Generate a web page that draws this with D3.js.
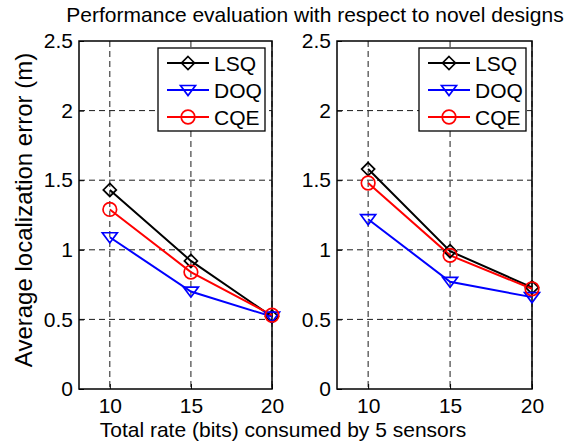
<!DOCTYPE html>
<html>
<head>
<meta charset="utf-8">
<script src="https://cdn.jsdelivr.net/npm/d3@7"></script>
<style>
  html, body { margin: 0; padding: 0; background: #fff; }
  svg { display: block; font-family: "Liberation Sans", Arial, sans-serif; }
</style>
</head>
<body>
<div id="chart"></div>
<script>
// Data
const rates = [10, 15, 20];
const xTicks = [10, 15, 20];
const yTicks = [0, 0.5, 1, 1.5, 2, 2.5];
const seriesNames = ['LSQ', 'DOQ', 'CQE'];

// left panel
const lsqLeft = [1.43, 0.92, 0.52];
const doqLeft = [1.09, 0.70, 0.52];
const cqeLeft = [1.29, 0.84, 0.53];

// right panel
const lsqRight = [1.58, 0.99, 0.73];
const doqRight = [1.22, 0.77, 0.66];
const cqeRight = [1.48, 0.96, 0.72];

const colors = { LSQ: '#000000', DOQ: '#0000ff', CQE: '#ff0000' };
const markers = { LSQ: 'diamond', DOQ: 'tri', CQE: 'circle' };

const W = 571, H = 444;
const FONT = 21;

const svg = d3.select('#chart').append('svg')
    .attr('width', W)
    .attr('height', H);

const panels = [
    { left: 79, right: 272, legendX: 158, data: { LSQ: lsqLeft, DOQ: doqLeft, CQE: cqeLeft } },
    { left: 337, right: 532, legendX: 419, data: { LSQ: lsqRight, DOQ: doqRight, CQE: cqeRight } }
];
const plotTop = 41, plotBottom = 389;

function drawMarker(g, type, cx, cy, color) {
    if (type === 'diamond') {
        const r = 6.5;
        g.append('path')
            .attr('d', `M${cx},${cy - r}L${cx + r},${cy}L${cx},${cy + r}L${cx - r},${cy}Z`)
            .attr('fill', 'none').attr('stroke', color).attr('stroke-width', 1.7);
    } else if (type === 'tri') {
        const r = 7.5;
        g.append('path')
            .attr('d', `M${cx - r},${cy - r * 0.6}L${cx + r},${cy - r * 0.6}L${cx},${cy + r * 0.75}Z`)
            .attr('fill', 'none').attr('stroke', color).attr('stroke-width', 1.7);
    } else {
        g.append('circle')
            .attr('cx', cx).attr('cy', cy).attr('r', 6.8)
            .attr('fill', 'none').attr('stroke', color).attr('stroke-width', 1.7);
    }
}

panels.forEach(p => {
    const x = d3.scaleLinear().domain([8.1, 20]).range([p.left, p.right]);
    const y = d3.scaleLinear().domain([0, 2.5]).range([plotBottom, plotTop]);
    const g = svg.append('g');

    // grid
    g.selectAll('.gx').data(xTicks).enter().append('line')
        .attr('x1', d => x(d)).attr('x2', d => x(d))
        .attr('y1', plotTop).attr('y2', plotBottom)
        .attr('stroke', '#000').attr('stroke-width', 0.9)
        .attr('stroke-dasharray', '6,4');
    g.selectAll('.gy').data(yTicks.slice(1, -1)).enter().append('line')
        .attr('x1', p.left).attr('x2', p.right)
        .attr('y1', d => y(d)).attr('y2', d => y(d))
        .attr('stroke', '#000').attr('stroke-width', 0.9)
        .attr('stroke-dasharray', '6,4');

    // axes via d3
    const xAxis = d3.axisBottom(x).tickValues(xTicks).tickSize(-5).tickPadding(9);
    const yAxis = d3.axisLeft(y).tickValues(yTicks).tickSize(-5).tickPadding(6)
        .tickFormat(d3.format('~g'));

    g.append('g').attr('transform', `translate(0,${plotBottom})`).call(xAxis)
        .call(a => a.select('.domain').remove())
        .call(a => a.selectAll('text').attr('font-size', FONT).attr('fill', '#000')
            .attr('font-family', '"Liberation Sans", Arial, sans-serif'));
    g.append('g').attr('transform', `translate(${p.left},0)`).call(yAxis)
        .call(a => a.select('.domain').remove())
        .call(a => a.selectAll('text').attr('font-size', FONT).attr('fill', '#000')
            .attr('font-family', '"Liberation Sans", Arial, sans-serif'));

    // box
    g.append('rect')
        .attr('x', p.left).attr('y', plotTop)
        .attr('width', p.right - p.left).attr('height', plotBottom - plotTop)
        .attr('fill', 'none').attr('stroke', '#000').attr('stroke-width', 1.5);

    // series
    seriesNames.forEach(name => {
        const vals = p.data[name];
        const line = d3.line().x((d, i) => x(rates[i])).y(d => y(d));
        g.append('path').datum(vals)
            .attr('d', line)
            .attr('fill', 'none')
            .attr('stroke', colors[name])
            .attr('stroke-width', 2);
    });
    seriesNames.forEach(name => {
        p.data[name].forEach((v, i) => drawMarker(g, markers[name], x(rates[i]), y(v), colors[name]));
    });

    // legend
    const lg = g.append('g').attr('transform', `translate(${p.legendX},48)`);
    lg.append('rect').attr('width', 107).attr('height', 83)
        .attr('fill', '#fff').attr('stroke', '#000').attr('stroke-width', 1.3);
    seriesNames.forEach((name, i) => {
        const cy = 15 + i * 27;
        lg.append('line').attr('x1', 9).attr('x2', 51).attr('y1', cy).attr('y2', cy)
            .attr('stroke', colors[name]).attr('stroke-width', 2);
        drawMarker(lg, markers[name], 30, cy, colors[name]);
        lg.append('text').attr('x', 56).attr('y', cy).attr('dy', '0.36em')
            .attr('font-size', FONT).text(name);
    });
});

// title and axis labels
svg.append('text').attr('x', 315).attr('y', 22).attr('text-anchor', 'middle')
    .attr('font-size', FONT).text('Performance evaluation with respect to novel designs');
svg.append('text').attr('x', 283).attr('y', 437).attr('text-anchor', 'middle')
    .attr('font-size', FONT).text('Total rate (bits) consumed by 5 sensors');
svg.append('text').attr('transform', 'translate(32,210) rotate(-90)')
    .attr('text-anchor', 'middle')
    .attr('font-size', 24).text('Average localization error (m)');
</script>
</body>
</html>
